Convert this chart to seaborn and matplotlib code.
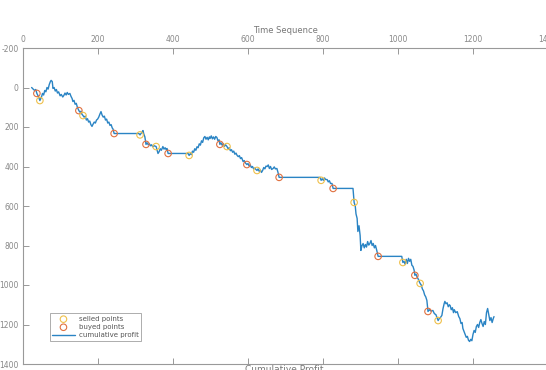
import matplotlib

matplotlib.use("Agg")
import matplotlib.pyplot as plt
import numpy as np
import pandas as pd
import seaborn as sns

# cumulative profit over time
time_seq = [
    23, 27, 31, 34, 37, 41, 45, 49, 52, 55, 58, 61, 64, 67, 70, 73, 75, 78, 80, 83,
    86, 89, 92, 95, 99, 102, 106, 109, 112, 115, 118, 121, 125, 128, 131, 133, 136, 139, 142, 145,
    147, 149, 152, 155, 157, 160, 163, 166, 169, 172, 175, 178, 181, 184, 187, 190, 193, 196, 199, 202,
    205, 208, 211, 214, 217, 220, 223, 226, 229, 232, 235, 238, 240, 243, 309, 312, 315, 318, 320, 322,
    325, 328, 331, 334, 337, 340, 343, 346, 350, 355, 358, 360, 363, 366, 369, 373, 376, 379, 382, 384,
    387, 440, 443, 446, 449, 452, 455, 458, 461, 464, 467, 470, 473, 476, 479, 482, 485, 488, 491, 494,
    497, 499, 502, 505, 508, 511, 514, 517, 520, 523, 525, 528, 531, 534, 537, 540, 544, 547, 550, 553,
    556, 559, 562, 565, 568, 571, 574, 577, 580, 583, 587, 590, 593, 597, 600, 603, 606, 609, 612, 615,
    618, 621, 624, 627, 630, 633, 636, 639, 642, 645, 648, 651, 654, 657, 660, 663, 667, 670, 673, 677,
    680, 683, 792, 795, 798, 801, 804, 807, 811, 814, 817, 820, 824, 827, 880, 883, 886, 888, 891, 893,
    896, 899, 901, 904, 907, 910, 913, 916, 919, 922, 925, 928, 931, 934, 937, 940, 944, 947, 1010, 1013,
    1016, 1019, 1022, 1025, 1028, 1031, 1034, 1037, 1040, 1043, 1045, 1048, 1051, 1054, 1056, 1059, 1062, 1065, 1068, 1071,
    1074, 1077, 1080, 1084, 1088, 1093, 1097, 1101, 1104, 1107, 1110, 1113, 1117, 1120, 1123, 1125, 1128, 1131, 1134, 1137,
    1139, 1142, 1145, 1148, 1150, 1154, 1158, 1162, 1165, 1168, 1171, 1173, 1176, 1179, 1182, 1185, 1188, 1191, 1194, 1197,
    1200, 1203, 1206, 1209, 1212, 1215, 1218, 1221, 1224, 1227, 1230, 1233, 1236, 1239, 1242, 1245, 1248, 1251, 1254, 1256,
]
profit = [
    0, 8, 15, 10, 30, 45, 66, 50, 30, 38, 15, 22, 0, 8, -15, -30, -36, -30, 5, 0,
    18, 10, 28, 22, 42, 35, 48, 40, 28, 38, 25, 35, 30, 45, 56, 71, 65, 85, 80, 100,
    108, 117, 125, 120, 135, 142, 150, 145, 165, 158, 175, 170, 188, 197, 185, 175, 180, 165, 160, 150,
    135, 122, 140, 150, 145, 165, 160, 180, 175, 192, 188, 205, 210, 233, 233, 240, 232, 225, 218, 235,
    250, 288, 280, 290, 285, 295, 290, 300, 295, 299, 320, 334, 325, 310, 318, 299, 312, 305, 315, 309,
    334, 334, 344, 335, 340, 322, 328, 310, 318, 300, 305, 285, 292, 270, 278, 255, 248, 262, 252, 265,
    250, 258, 245, 260, 250, 262, 248, 253, 270, 265, 288, 280, 292, 285, 298, 290, 299, 310, 305, 320,
    315, 328, 322, 338, 332, 344, 350, 345, 360, 355, 375, 370, 382, 390, 385, 398, 392, 405, 400, 412,
    408, 415, 420, 412, 425, 418, 430, 420, 405, 412, 398, 400, 392, 410, 400, 415, 410, 402, 412, 410,
    430, 455, 455, 470, 462, 470, 458, 466, 466, 478, 472, 486, 486, 511, 511, 582, 600, 640, 663, 729,
    700, 749, 825, 800, 790, 812, 795, 808, 780, 798, 790, 775, 800, 790, 812, 800, 830, 855, 855, 886,
    880, 895, 870, 891, 865, 880, 870, 900, 906, 925, 951, 945, 960, 970, 980, 992, 1000, 1020, 1030, 1050,
    1060, 1078, 1134, 1125, 1132, 1129, 1145, 1150, 1165, 1180, 1170, 1165, 1154, 1120, 1095, 1083, 1095, 1090, 1110, 1100,
    1104, 1125, 1115, 1140, 1125, 1140, 1135, 1160, 1170, 1195, 1190, 1220, 1235, 1250, 1265, 1260, 1280, 1286, 1275, 1282,
    1250, 1230, 1240, 1210, 1200, 1215, 1190, 1175, 1195, 1210, 1185, 1200, 1140, 1119, 1150, 1180, 1165, 1190, 1170, 1160,
]

buy_time = [37, 149, 243, 328, 387, 525, 597, 683, 827, 947, 1045, 1080]
buy_profit = [30, 117, 233, 288, 334, 288, 390, 455, 511, 855, 951, 1134]
sell_time = [45, 160, 312, 355, 443, 544, 624, 795, 883, 1013, 1059, 1107]
sell_profit = [66, 142, 240, 299, 344, 299, 420, 470, 582, 886, 992, 1180]

y_ticks = [-200, 0, 200, 400, 600, 800, 1000, 1200, 1400]
x_ticks = [0, 200, 400, 600, 800, 1000, 1200, 1400]


def main():
    sns.set_style("white")
    plt.rcParams["font.family"] = ["DejaVu Sans"]

    df = pd.DataFrame({"t": time_seq, "profit": profit})
    buys = pd.DataFrame({"t": buy_time, "profit": buy_profit})
    sells = pd.DataFrame({"t": sell_time, "profit": sell_profit})

    fig = plt.figure(figsize=(5.46, 3.70), dpi=100)
    ax = fig.add_axes([23 / 546, 6 / 370, 525 / 546, 316 / 370])

    sns.lineplot(data=df, x="t", y="profit", ax=ax, color="#2a84c4", linewidth=1.0,
                 estimator=None, sort=False, label="cumulative profit")
    sns.scatterplot(data=buys, x="t", y="profit", ax=ax, marker="o", s=22,
                    facecolor="none", edgecolor="#e0703f", linewidth=0.8, label="buyed points", zorder=3)
    sns.scatterplot(data=sells, x="t", y="profit", ax=ax, marker="o", s=22,
                    facecolor="none", edgecolor="#efc04a", linewidth=0.8, label="selled points", zorder=3)

    ax.set_xlim(0, 1400)
    ax.set_ylim(1400, -200)
    ax.set_xticks(x_ticks)
    ax.set_yticks(y_ticks)
    ax.set_yticklabels([str(v) for v in y_ticks])

    ax.xaxis.set_label_position("top")
    ax.tick_params(axis="x", top=True, bottom=True, labeltop=True, labelbottom=False,
                   direction="in", length=4, width=0.6, colors="#888888", labelsize=5.5, pad=3)
    ax.tick_params(axis="y", left=True, direction="in", length=4, width=0.6,
                   colors="#888888", labelsize=5.5, pad=3)
    for s in ax.spines.values():
        s.set_color("#999999")
        s.set_linewidth(0.8)

    ax.set_xlabel("Time Sequence", fontsize=6, color="#777777", labelpad=1)
    ax.set_ylabel("")
    fig.text(0.52, 0.014, "Cumulative Profit", fontsize=6.5, color="#777777", ha="center", va="top")

    handles, labels = ax.get_legend_handles_labels()
    order = [2, 1, 0]
    leg = ax.legend([handles[i] for i in order], [labels[i] for i in order],
                    loc="lower left", bbox_to_anchor=(0.044, 0.062), fontsize=5,
                    frameon=True, fancybox=False, edgecolor="#888888", handlelength=3.2,
                    borderpad=0.4, labelspacing=0.3, handletextpad=0.6)
    leg.get_frame().set_linewidth(0.6)
    for t in leg.get_texts():
        t.set_color("#555555")

    fig.savefig("out.png", dpi=100)


if __name__ == "__main__":
    main()
